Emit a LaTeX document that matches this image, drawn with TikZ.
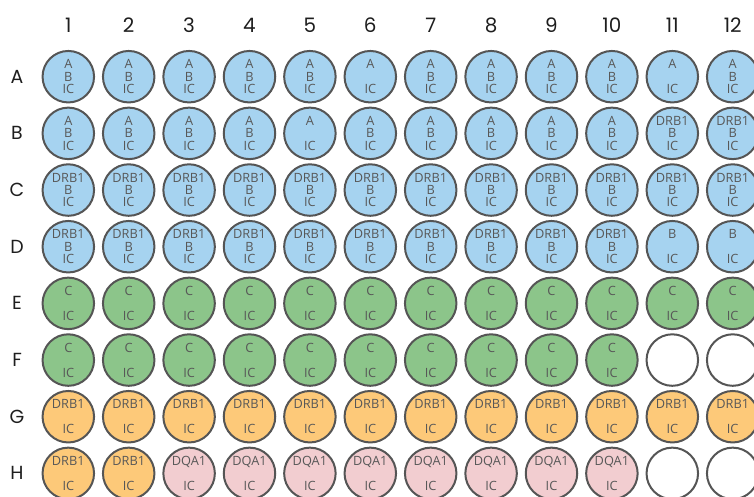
\documentclass[tikz,border=0pt]{standalone}
\usepackage{fontspec}
\setmainfont{Open Sans}
\newfontfamily\platefont{Poppins}
\usepackage{tikz}
\definecolor{WellBlue}{RGB}{166,211,240}
\definecolor{WellGreen}{RGB}{140,197,138}
\definecolor{WellGold}{RGB}{253,201,121}
\definecolor{WellPink}{RGB}{242,205,208}
\definecolor{WellEdge}{RGB}{85,85,85}
\definecolor{WellInk}{RGB}{88,88,88}
\definecolor{PlateInk}{RGB}{30,30,30}

\begin{document}
\begin{tikzpicture}[x=60.4bp, y=-56.67bp,
    well/.style={circle, draw=WellEdge, line width=2bp, minimum size=51.5bp,
                 inner sep=0pt, align=center, text=WellInk,
                 font=\fontsize{12.8}{12.5}\selectfont},
    wab/.style={well, fill=WellBlue, node contents={A\\B\\IC}},
    wa/.style={well, fill=WellBlue, node contents={A\\\mbox{}\\IC}},
    wdb/.style={well, fill=WellBlue, node contents={DRB1\\B\\IC}},
    wb/.style={well, fill=WellBlue, node contents={B\\\mbox{}\\IC}},
    wc/.style={well, fill=WellGreen, node contents={C\\\mbox{}\\IC}},
    wdr/.style={well, fill=WellGold, node contents={DRB1\\\mbox{}\\IC}},
    wdq/.style={well, fill=WellPink, node contents={DQA1\\\mbox{}\\IC}},
    wno/.style={well, fill=white, node contents={}},
    collab/.style={text=PlateInk, font=\platefont\fontsize{20}{20}\selectfont},
    rowlab/.style={text=PlateInk, font=\platefont\fontsize{19}{19}\selectfont}
  ]
  \useasboundingbox (-0.1308,-0.3534) rectangle (12.3526,8.4166);

  % column and row labels
  \foreach \c in {1,...,12}
    \node[collab] (col\c) at (\c,0.09) {\c};
  \foreach \r [count=\i] in {A,B,C,D,E,F,G,H}
    \node[rowlab] (row\r) at (0.151,\i) {\r};

  % wells, one row at a time
  \foreach \s [count=\c] in {wab,wab,wab,wab,wab,wa,wab,wab,wab,wab,wa,wab}
    \node[\s, name=A\c, at={(\c,1)}];
  \foreach \s [count=\c] in {wab,wab,wab,wab,wa,wab,wab,wab,wab,wab,wdb,wdb}
    \node[\s, name=B\c, at={(\c,2)}];
  \foreach \c in {1,...,12}
    \node[wdb, name=C\c, at={(\c,3)}];
  \foreach \s [count=\c] in {wdb,wdb,wdb,wdb,wdb,wdb,wdb,wdb,wdb,wdb,wb,wb}
    \node[\s, name=D\c, at={(\c,4)}];
  \foreach \c in {1,...,12}
    \node[wc, name=E\c, at={(\c,5)}];
  \foreach \s [count=\c] in {wc,wc,wc,wc,wc,wc,wc,wc,wc,wc,wno,wno}
    \node[\s, name=F\c, at={(\c,6)}];
  \foreach \c in {1,...,12}
    \node[wdr, name=G\c, at={(\c,7)}];
  \foreach \s [count=\c] in {wdr,wdr,wdq,wdq,wdq,wdq,wdq,wdq,wdq,wdq,wno,wno}
    \node[\s, name=H\c, at={(\c,8)}];
\end{tikzpicture}
\end{document}
